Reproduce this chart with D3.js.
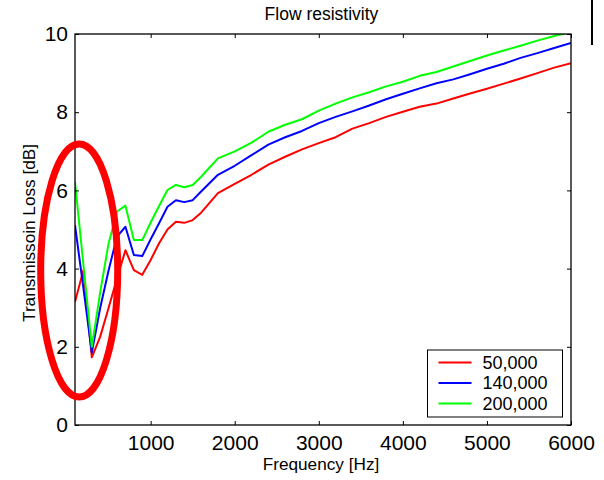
<!DOCTYPE html>
<html>
<head>
<meta charset="utf-8">
<script src="https://cdn.jsdelivr.net/npm/d3@7"></script>
<style>
  body { margin: 0; background: #fff; }
  svg { font-family: "Liberation Sans", Arial, sans-serif; }
</style>
</head>
<body>
<div id="chart"></div>
<script>
// data
const freqs = [100, 200, 300, 400, 500, 600, 700, 800, 900, 1000, 1100, 1200, 1300, 1400, 1500, 1600,
    1800, 2000, 2200, 2400, 2600, 2800, 3000, 3200, 3400, 3600, 3800, 4000, 4200, 4400, 4600, 4800,
    5000, 5200, 5400, 5600, 5800, 6000];
const tl50k = [3.15, 3.96, 1.73, 2.26, 3.0, 3.75, 4.47, 3.96, 3.84, 4.22, 4.65, 5.0, 5.2, 5.17, 5.24, 5.43,
    5.93, 6.17, 6.4, 6.66, 6.86, 7.05, 7.21, 7.36, 7.58, 7.72, 7.88, 8.01, 8.14, 8.22, 8.35, 8.48,
    8.6, 8.73, 8.86, 9.0, 9.14, 9.25];
const tl140k = [5.11, 3.5, 1.85, 3.0, 3.96, 4.82, 5.07, 4.35, 4.32, 4.75, 5.16, 5.58, 5.75, 5.7, 5.75, 5.97,
    6.4, 6.63, 6.9, 7.17, 7.36, 7.52, 7.72, 7.88, 8.02, 8.17, 8.33, 8.47, 8.61, 8.74, 8.84, 8.97,
    9.11, 9.24, 9.39, 9.51, 9.64, 9.77];
const tl200k = [6.22, 4.1, 2.0, 3.4, 4.65, 5.46, 5.61, 4.73, 4.73, 5.18, 5.6, 6.01, 6.14, 6.08, 6.14, 6.35,
    6.82, 7.0, 7.22, 7.5, 7.68, 7.82, 8.04, 8.22, 8.38, 8.51, 8.66, 8.78, 8.93, 9.03, 9.17, 9.31,
    9.45, 9.58, 9.7, 9.83, 9.95, 10.05];
const seriesNames = ['50,000', '140,000', '200,000'];
const seriesColors = ['#ff0000', '#0000ff', '#00ff00'];
const xTicks = [1000, 2000, 3000, 4000, 5000, 6000];
const yTicks = [0, 2, 4, 6, 8, 10];

const W = 604, H = 480;
const margin = { top: 34, right: 33, bottom: 55, left: 75 };
const width = W - margin.left - margin.right;
const height = H - margin.top - margin.bottom;

const svg = d3.select('#chart').append('svg')
    .attr('width', W)
    .attr('height', H);

const g = svg.append('g')
    .attr('transform', 'translate(' + margin.left + ',' + margin.top + ')');

const x = d3.scaleLinear().domain([100, 6000]).range([0, width]);
const y = d3.scaleLinear().domain([0, 10]).range([height, 0]);

g.append('clipPath').attr('id', 'clip')
    .append('rect').attr('width', width).attr('height', height);

// curves
const series = [tl50k, tl140k, tl200k];
const line = d3.line()
    .x((d, i) => x(freqs[i]))
    .y(d => y(d));

g.append('g').attr('clip-path', 'url(#clip)')
    .selectAll('path')
    .data(series)
    .join('path')
    .attr('d', d => line(d))
    .attr('fill', 'none')
    .attr('stroke', (d, i) => seriesColors[i])
    .attr('stroke-width', 2)
    .attr('stroke-linejoin', 'round');

// axes, ticks point inward
const fontTick = '21px';
g.append('g')
    .attr('transform', 'translate(0,' + height + ')')
    .call(d3.axisBottom(x).tickValues(xTicks).tickFormat(d3.format('d')).tickSize(-4).tickPadding(10))
    .call(a => a.select('.domain').remove())
    .call(a => a.selectAll('text').style('font-size', fontTick).attr('fill', '#000'));
g.append('g')
    .call(d3.axisTop(x).tickValues(xTicks).tickSize(-4).tickFormat(''))
    .call(a => a.select('.domain').remove());
g.append('g')
    .call(d3.axisLeft(y).tickValues(yTicks).tickFormat(d3.format('d')).tickSize(-4).tickPadding(7))
    .call(a => a.select('.domain').remove())
    .call(a => a.selectAll('text').style('font-size', fontTick).attr('fill', '#000'));
g.append('g')
    .attr('transform', 'translate(' + width + ',0)')
    .call(d3.axisRight(y).tickValues(yTicks).tickSize(-4).tickFormat(''))
    .call(a => a.select('.domain').remove());

g.append('rect')
    .attr('width', width)
    .attr('height', height)
    .attr('fill', 'none')
    .attr('stroke', '#000')
    .attr('stroke-width', 1.3);

// labels
svg.append('text')
    .attr('x', 321.5).attr('y', 20)
    .attr('text-anchor', 'middle')
    .style('font-size', '17.5px')
    .text('Flow resistivity');

svg.append('text')
    .attr('x', 321).attr('y', 470)
    .attr('text-anchor', 'middle')
    .style('font-size', '17.2px')
    .text('Frequency [Hz]');

svg.append('text')
    .attr('transform', 'translate(35,233) rotate(-90)')
    .attr('text-anchor', 'middle')
    .style('font-size', '17.2px')
    .text('Transmissoin Loss [dB]');

// legend
const legend = svg.append('g').attr('transform', 'translate(427.5,350)');
legend.append('rect')
    .attr('width', 135).attr('height', 67)
    .attr('fill', '#fff')
    .attr('stroke', '#000')
    .attr('stroke-width', 1);
const items = legend.selectAll('g.item')
    .data(seriesNames)
    .join('g')
    .attr('class', 'item')
    .attr('transform', (d, i) => 'translate(0,' + (12.5 + i * 20.5) + ')');
items.append('line')
    .attr('x1', 11).attr('x2', 44)
    .attr('stroke', (d, i) => seriesColors[i])
    .attr('stroke-width', 2);
items.append('text')
    .attr('x', 55)
    .attr('dy', '0.35em')
    .style('font-size', '18px')
    .text(d => d);

// red ellipse annotation around the low-frequency dip
svg.append('ellipse')
    .attr('cx', margin.left + x(150))
    .attr('cy', margin.top + y(3.95))
    .attr('rx', 38.5)
    .attr('ry', 126.5)
    .attr('fill', 'none')
    .attr('stroke', '#ff0000')
    .attr('stroke-width', 7);

// stray vertical bar at the top-right edge of the image
svg.append('line')
    .attr('x1', 592).attr('x2', 592)
    .attr('y1', 0).attr('y2', 45)
    .attr('stroke', '#000')
    .attr('stroke-width', 2);
</script>
</body>
</html>
